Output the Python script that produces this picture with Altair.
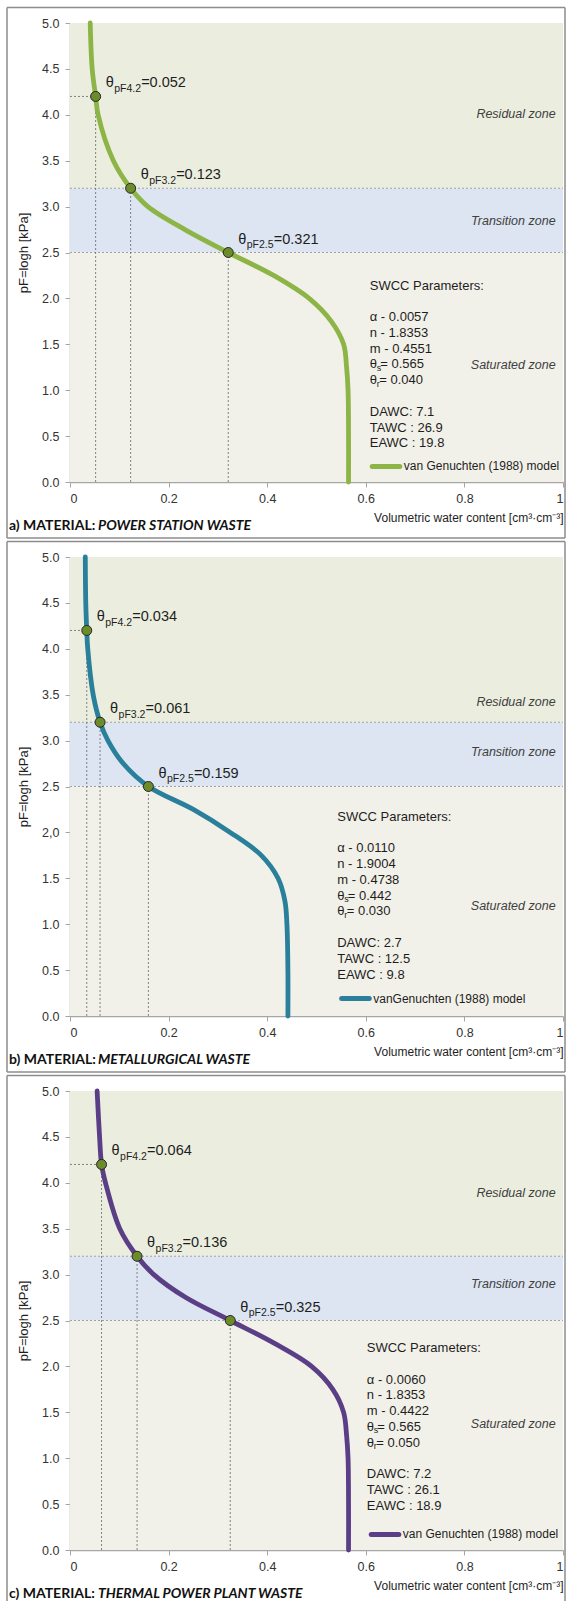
import altair as alt
import pandas as pd

# pF levels at which each retention curve is traced
PF = [0.0, 0.5, 1.0, 1.25, 1.5, 1.75, 2.0, 2.25, 2.5, 2.75, 3.0, 3.2, 3.5, 4.0, 4.2, 4.5, 5.0]

# volumetric water content along each curve
THETA_A = [0.565, 0.565, 0.564, 0.561, 0.555, 0.530, 0.485, 0.413, 0.321, 0.233, 0.158, 0.123, 0.088, 0.057, 0.052, 0.045, 0.041]
THETA_B = [0.442, 0.442, 0.440, 0.436, 0.422, 0.388, 0.325, 0.250, 0.159, 0.108, 0.077, 0.061, 0.047, 0.036, 0.034, 0.032, 0.031]
THETA_C = [0.565, 0.565, 0.564, 0.561, 0.555, 0.533, 0.490, 0.415, 0.325, 0.235, 0.170, 0.136, 0.101, 0.072, 0.064, 0.060, 0.055]

# characteristic points (pF 4.2, 3.2, 2.5)
MARK_PF = [4.2, 3.2, 2.5]
MARK_A = [0.052, 0.123, 0.321]
MARK_B = [0.034, 0.061, 0.159]
MARK_C = [0.064, 0.136, 0.325]

# moisture zones
ZONES = ["Residual zone", "Transition zone", "Saturated zone"]
ZONE_LO = [3.2, 2.5, 0.0]
ZONE_HI = [5.0, 3.2, 2.5]
ZONE_FILL = ["#EBEEDF", "#DCE5F1", "#F2F1E9"]

# SWCC parameters: alpha, n, m, theta_s, theta_r
PARAMS_A = ["0.0057", "1.8353", "0.4551", "0.565", "0.040"]
PARAMS_B = ["0.0110", "1.9004", "0.4738", "0.442", "0.030"]
PARAMS_C = ["0.0060", "1.8353", "0.4422", "0.565", "0.050"]

# available water capacities: DAWC, TAWC, EAWC
AWC_A = ["7.1", "26.9", "19.8"]
AWC_B = ["2.7", "12.5", "9.8"]
AWC_C = ["7.2", "26.1", "18.9"]

X_TICKS = [0, 0.2, 0.4, 0.6, 0.8, 1]
Y_TICKS = [0, 0.5, 1, 1.5, 2, 2.5, 3, 3.5, 4, 4.5, 5]

FONT = "Liberation Sans"
W, H = 493, 459
AXIS_GREY = "#A6A6A6"
FRAME_GREY = "#8C8C8C"
TEXT = "#1E1E1E"


def panel(letter, material, theta, marks, params, awc, color,
          zone_y, block_xy, legend_xy, legend_label, y_label_expr, closed=True):
    xs = alt.Scale(domain=[0, 1], nice=False, zero=False)
    ys = alt.Scale(domain=[0, 5], nice=False, zero=False)
    x_axis = alt.Axis(
        values=X_TICKS,
        labelExpr="datum.value == 0 ? '0' : datum.value == 1 ? '1' : format(datum.value, '.1f')",
        title="Volumetric water content [cm³·cm⁻³]", titleAnchor="end",
        titleFontWeight="normal", titleFontSize=12, titleColor=TEXT, titlePadding=8,
        titleFont=FONT, labelFont=FONT, labelFontSize=12.5, labelColor="#333333",
        labelPadding=5, grid=False, domainColor=AXIS_GREY, domainWidth=1.5,
        tickColor=AXIS_GREY, tickSize=5, tickWidth=1)
    y_axis = alt.Axis(
        values=Y_TICKS, labelExpr=y_label_expr,
        title="pF=logh [kPa]", titleFontWeight="normal", titleFontSize=13,
        titleColor=TEXT, titlePadding=11, titleFont=FONT, labelFont=FONT,
        labelFontSize=12.5, labelColor="#333333", labelPadding=6, grid=False,
        domainColor=AXIS_GREY, domainWidth=1.5, tickColor=AXIS_GREY,
        tickSize=5, tickWidth=1)

    def X(f):
        return alt.X(f, type="quantitative", scale=xs, axis=x_axis)

    def Y(f):
        return alt.Y(f, type="quantitative", scale=ys, axis=y_axis)

    curve = pd.DataFrame({"pf": PF, "theta": theta})
    pts = pd.DataFrame({
        "pf": MARK_PF, "theta": marks, "zero": 0.0,
        "sub": [f"pF{p}" for p in MARK_PF],
        "val": [f"={v:.3f}" for v in marks],
    })
    zones = pd.DataFrame({"zone": ZONES, "lo": ZONE_LO, "hi": ZONE_HI,
                          "x0": 0.0, "x1": 1.0, "ly": zone_y, "lx": 0.985})
    bounds = pd.DataFrame({"pf": [3.2, 2.5], "x0": 0.0, "x1": 1.0})
    block = pd.DataFrame({"bx": [block_xy[0]], "by": [block_xy[1]]})
    legend = pd.DataFrame({"l0": [legend_xy[0]], "l1": [legend_xy[0] + 0.056],
                           "ly": [legend_xy[1]]})
    one = pd.DataFrame({"k": [0]})

    layers = []
    layers.append(alt.Chart(zones).mark_rect().encode(
        x=X("x0"), x2="x1", y=Y("lo"), y2="hi",
        color=alt.Color("zone:N", scale=alt.Scale(domain=ZONES, range=ZONE_FILL), legend=None)))
    layers.append(alt.Chart(bounds).mark_rule(color="#A0A0A0", strokeDash=[2, 2], strokeWidth=1).encode(
        x=X("x0"), x2="x1", y=Y("pf")))
    layers.append(alt.Chart(pts).mark_rule(color="#666666", strokeDash=[2, 2], strokeWidth=0.8).encode(
        x=X("theta"), y=Y("zero"), y2="pf"))
    layers.append(alt.Chart(pts[pts.pf == 4.2]).mark_rule(color="#666666", strokeDash=[2, 2], strokeWidth=0.8).encode(
        x=X("zero"), x2="theta", y=Y("pf")))
    layers.append(alt.Chart(zones).mark_text(
        align="right", baseline="middle", fontStyle="italic", fontSize=12.5,
        font=FONT, color="#404040").encode(x=X("lx"), y=Y("ly"), text="zone:N"))
    layers.append(alt.Chart(curve).mark_line(
        color=color, strokeWidth=4.8, interpolate="catmull-rom", strokeCap="round").encode(
        x=X("theta"), y=Y("pf"), order=alt.Order("pf:Q")))
    layers.append(alt.Chart(pts).mark_point(
        filled=True, shape="circle", size=100, fill="#6C8C2C", stroke="#262626",
        strokeWidth=1, opacity=1).encode(x=X("theta"), y=Y("pf")))
    # point labels: theta, subscript pF level, value
    layers.append(alt.Chart(pts).mark_text(
        align="left", baseline="middle", dx=10, dy=-13, fontSize=14.5, font=FONT, color=TEXT).encode(
        x=X("theta"), y=Y("pf"), text=alt.value("θ")))
    layers.append(alt.Chart(pts).mark_text(
        align="left", baseline="middle", dx=18.5, dy=-7.5, fontSize=10.5, font=FONT, color=TEXT).encode(
        x=X("theta"), y=Y("pf"), text="sub:N"))
    layers.append(alt.Chart(pts).mark_text(
        align="left", baseline="middle", dx=45.5, dy=-13, fontSize=14.5, font=FONT, color=TEXT).encode(
        x=X("theta"), y=Y("pf"), text="val:N"))

    # SWCC parameter block
    lines = [
        ("SWCC Parameters:", 0),
        (f"α - {params[0]}", 31.5),
        (f"n - {params[1]}", 47.3),
        (f"m - {params[2]}", 63.1),
        (f"DAWC: {awc[0]}", 126.3),
        (f"TAWC : {awc[1]}", 142.1),
        (f"EAWC : {awc[2]}", 157.9),
    ]
    for txt, dy in lines:
        layers.append(alt.Chart(block).mark_text(
            align="left", baseline="middle", dy=dy, fontSize=13, font=FONT, color=TEXT).encode(
            x=X("bx"), y=Y("by"), text=alt.value(txt)))
    for sym, val, dy, dxv in [("s", params[3], 78.9, 10.5), ("r", params[4], 94.7, 9.5)]:
        layers.append(alt.Chart(block).mark_text(
            align="left", baseline="middle", dy=dy, fontSize=13, font=FONT, color=TEXT).encode(
            x=X("bx"), y=Y("by"), text=alt.value("θ")))
        layers.append(alt.Chart(block).mark_text(
            align="left", baseline="middle", dx=7, dy=dy + 3.5, fontSize=9, font=FONT, color=TEXT).encode(
            x=X("bx"), y=Y("by"), text=alt.value(sym)))
        layers.append(alt.Chart(block).mark_text(
            align="left", baseline="middle", dx=dxv, dy=dy, fontSize=13, font=FONT, color=TEXT).encode(
            x=X("bx"), y=Y("by"), text=alt.value(f"= {val}")))

    # legend entry
    layers.append(alt.Chart(legend).mark_rule(color=color, strokeWidth=5, strokeCap="round").encode(
        x=X("l0"), x2="l1", y=Y("ly")))
    layers.append(alt.Chart(legend).mark_text(
        align="left", baseline="middle", dx=4, fontSize=12, font=FONT, color=TEXT).encode(
        x=X("l1"), y=Y("ly"), text=alt.value(legend_label)))

    # panel caption
    layers.append(alt.Chart(one).mark_text(
        align="left", baseline="middle", fontSize=14, fontWeight="bold", font="Lato", color="#111111").encode(
        x=alt.value(-61), y=alt.value(H + 44), text=alt.value(f"{letter}) MATERIAL:")))
    layers.append(alt.Chart(one).mark_text(
        align="left", baseline="middle", fontSize=14, fontWeight="bold", fontStyle="italic",
        font="Lato", color="#111111").encode(
        x=alt.value(28), y=alt.value(H + 44), text=alt.value(material)))

    # panel frame (the last panel runs off the bottom edge, so it stays open)
    top, left, right = -15.5, -63, W + 2
    bottom = H + 56 if closed else H + 51
    frame = alt.Chart(one).mark_rule(color=FRAME_GREY, strokeWidth=1.5)
    layers.append(frame.encode(x=alt.value(left), x2=alt.value(right), y=alt.value(top)))
    layers.append(frame.encode(x=alt.value(left), y=alt.value(top), y2=alt.value(bottom)))
    layers.append(frame.encode(x=alt.value(right), y=alt.value(top), y2=alt.value(bottom)))
    if closed:
        layers.append(frame.encode(x=alt.value(left), x2=alt.value(right), y=alt.value(bottom)))

    return alt.layer(*layers).properties(width=W, height=H)


Y_PLAIN = "format(datum.value, '.1f')"
Y_COMMA = "datum.value == 2 ? '2,0' : format(datum.value, '.1f')"

pa = panel("a", "POWER STATION WASTE", THETA_A, MARK_A, PARAMS_A, AWC_A, "#8DB446",
           [4.01, 2.84, 1.27], (0.608, 2.14), (0.613, 0.17),
           "van Genuchten  (1988)  model", Y_PLAIN)
pb = panel("b", "METALLURGICAL WASTE", THETA_B, MARK_B, PARAMS_B, AWC_B, "#2A7F9B",
           [3.42, 2.88, 1.20], (0.542, 2.17), (0.551, 0.19),
           "vanGenuchten  (1988)  model", Y_COMMA)
pc = panel("c", "THERMAL POWER PLANT WASTE", THETA_C, MARK_C, PARAMS_C, AWC_C, "#5B3F86",
           [3.89, 2.90, 1.37], (0.602, 2.20), (0.611, 0.17),
           "van Genuchten  (1988)  model", Y_PLAIN, closed=False)

chart = (
    alt.vconcat(pa, pb, pc, spacing=75, bounds="flush")
    .properties(padding={"left": 6, "top": 6, "right": 0, "bottom": 0}, background="white")
    .configure_view(strokeWidth=0)
)

chart.save("out.html", embed_options={"renderer": "svg", "actions": False})
